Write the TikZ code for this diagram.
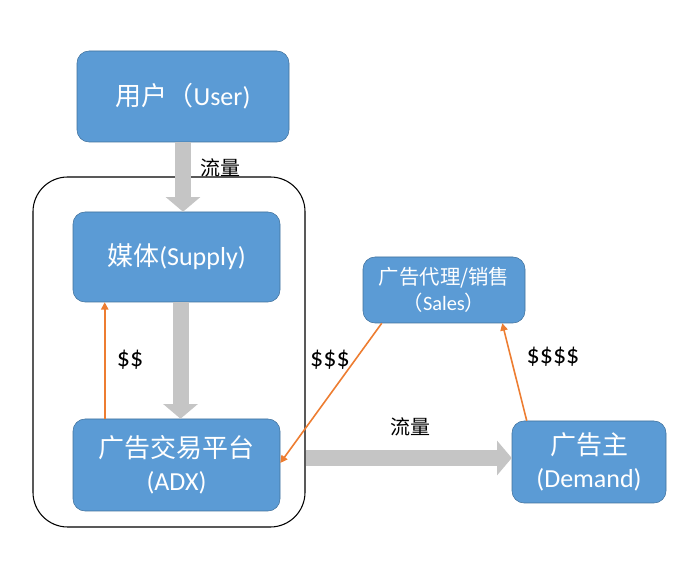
\documentclass[tikz,border=0pt]{standalone}
\usepackage{fontspec}
\setmainfont{Carlito}
\newfontfamily\cjk{Noto Sans CJK SC}
\usetikzlibrary{arrows.meta,calc}
\definecolor{boxblue}{RGB}{91,155,213}
\definecolor{boxedge}{RGB}{65,113,156}
\definecolor{flowgray}{RGB}{197,197,197}
\definecolor{moneyorange}{RGB}{237,125,49}

\begin{document}
\begin{tikzpicture}[x=0.75pt,y=-0.75pt,
    party/.style={draw=boxedge, fill=boxblue, rounded corners=9pt, text=white,
      align=center, inner sep=0pt, font=\fontsize{19.5}{25}\selectfont},
    frame/.style={draw=black, line width=0.8pt, rounded corners=26pt,
      minimum width=204pt, minimum height=262.5pt},
    flow/.style={draw=flowgray, line width=12pt,
      -{Triangle[width=26pt,length=11pt,line width=0pt]}},
    money/.style={draw=moneyorange, line width=1.2pt,
      -{Triangle[width=5.5pt,length=5.5pt]}},
    tag/.style={font=\fontsize{15}{17}\selectfont\cjk},
    cash/.style={font=\fontsize{19.5}{21}\selectfont}]
  \useasboundingbox (0,0) rectangle (693,566);
  %frame round the supply side
  \node[frame] (platform) at (169,352) {};
  %parties
  \node[party, minimum width=159pt, minimum height=68.25pt] (user) at (183,96.5) {{\cjk 用户（}User)};
  \node[party, minimum width=155.25pt, minimum height=67.5pt] (supply) at (176.5,257) {{\cjk 媒体}(Supply)};
  \node[party, minimum width=155.25pt, minimum height=69pt] (adx) at (176.5,465) {{\cjk 广告交易平台}\\(ADX)};
  \node[party, minimum width=121.5pt, minimum height=49.5pt,
    font=\fontsize{15.3}{19}\selectfont] (sales) at (444,290) {{\cjk 广告代理/销售}\\{\cjk （}Sales{\cjk ）}};
  \node[party, minimum width=115.5pt, minimum height=61.5pt] (demand) at (589,462) {{\cjk 广告主}\\(Demand)};
  %traffic
  \draw[flow] (user.south) -- (user.south |- supply.north);
  \draw[flow] ($(supply.south)+(4,0)$) -- ($(adx.north)+(4,0)$);
  \coordinate (out) at (platform.east |- 0,458);
  \draw[flow] (out) -- (out -| demand.west);
  \node[tag] (flow1) at (220,168) {流量};
  \node[tag] (flow2) at (410,427) {流量};
  %money
  \draw[money] ($(adx.north west)+(32,0)$) -- ($(supply.south west)+(32,0)$);
  \draw[money] ($(sales.south west)+(19,0)$) -- ($(adx.east)+(0,-2)$);
  \draw[money] ($(demand.north west)+(15,0)$) -- ($(sales.south east)+(-23,0)$);
  \node[cash] (pay1) at (130,360) {\$\$};
  \node[cash] (pay2) at (330,360) {\$\$\$};
  \node[cash] (pay3) at (553,357) {\$\$\$\$};
\end{tikzpicture}
\end{document}
